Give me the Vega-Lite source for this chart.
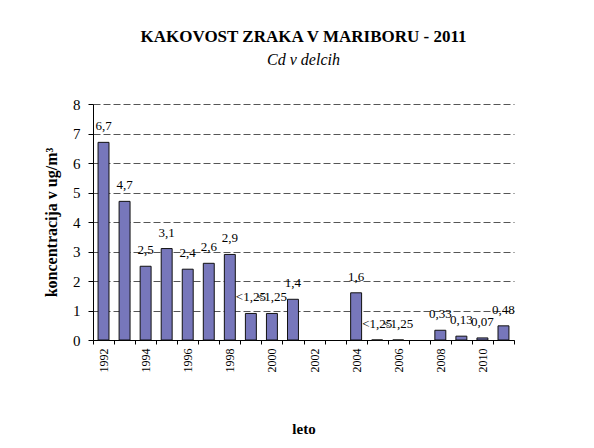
{
  "$schema": "https://vega.github.io/schema/vega-lite/v6.json",
  "width": 421,
  "height": 236,
  "autosize": "none",
  "padding": {"left": 93, "top": 104, "right": 80, "bottom": 108},
  "background": "white",
  "config": {
    "font": "Liberation Serif",
    "view": {"stroke": null},
    "axis": {"labelFont": "Liberation Serif", "titleFont": "Liberation Serif", "labelColor": "black", "titleColor": "black", "domainColor": "black", "tickColor": "black"}
  },
  "title": {
    "text": "KAKOVOST ZRAKA V MARIBORU - 2011",
    "subtitle": "Cd v delcih",
    "font": "Liberation Serif",
    "fontSize": 17,
    "fontWeight": "bold",
    "color": "black",
    "subtitleFont": "Liberation Serif",
    "subtitleFontSize": 16,
    "subtitleFontStyle": "italic",
    "subtitleColor": "black",
    "subtitlePadding": 6,
    "anchor": "middle",
    "offset": 28
  },
  "data": {
    "values": [
      {"year": 1992, "value": 6.7, "label": "6,7"},
      {"year": 1993, "value": 4.7, "label": "4,7"},
      {"year": 1994, "value": 2.5, "label": "2,5"},
      {"year": 1995, "value": 3.1, "label": "3,1"},
      {"year": 1996, "value": 2.4, "label": "2,4"},
      {"year": 1997, "value": 2.6, "label": "2,6"},
      {"year": 1998, "value": 2.9, "label": "2,9"},
      {"year": 1999, "value": 0.9, "label": "<1,25"},
      {"year": 2000, "value": 0.9, "label": "<1,25"},
      {"year": 2001, "value": 1.38, "label": "1,4"},
      {"year": 2002, "value": null, "label": null},
      {"year": 2003, "value": null, "label": null},
      {"year": 2004, "value": 1.6, "label": "1,6"},
      {"year": 2005, "value": 0, "label": "<1,25"},
      {"year": 2006, "value": 0, "label": "<1,25"},
      {"year": 2007, "value": null, "label": null},
      {"year": 2008, "value": 0.33, "label": "0,33"},
      {"year": 2009, "value": 0.13, "label": "0,13"},
      {"year": 2010, "value": 0.07, "label": "0,07"},
      {"year": 2011, "value": 0.48, "label": "0,48"}
    ]
  },
  "encoding": {
    "x": {
      "field": "year",
      "type": "ordinal",
      "scale": {
        "domain": [1992,1993,1994,1995,1996,1997,1998,1999,2000,2001,2002,2003,2004,2005,2006,2007,2008,2009,2010,2011],
        "paddingInner": 0,
        "paddingOuter": 0
      },
      "axis": {
        "title": "leto",
        "titleFont": "Liberation Serif",
        "titleFontSize": 15,
        "titleFontWeight": "bold",
        "titleY": 93,
        "titleBaseline": "alphabetic",
        "labelFont": "Liberation Serif",
        "labelAngle": -90,
        "labelFontSize": 12,
        "labelPadding": 4,
        "labelExpr": "datum.value % 2 == 0 ? datum.value : ''",
        "tickBand": "extent",
        "tickSize": 4,
        "domainWidth": 1
      }
    },
    "y": {
      "field": "value",
      "type": "quantitative",
      "scale": {"domain": [0, 8], "nice": false},
      "axis": {
        "title": "koncentracija v ug/m³",
        "titleFont": "Liberation Serif",
        "titleFontSize": 16,
        "titleFontWeight": "bold",
        "titlePadding": 13,
        "labelFont": "Liberation Serif",
        "values": [0,1,2,3,4,5,6,7,8],
        "labelFontSize": 15,
        "labelPadding": 8,
        "tickSize": 5,
        "grid": true,
        "gridColor": "#555555",
        "gridDash": [7, 3],
        "gridWidth": 1
      }
    }
  },
  "layer": [
    {
      "mark": {"type": "bar", "width": {"band": 0.52}, "fill": "#7777BB", "stroke": "#111111", "strokeWidth": 1}
    },
    {
      "transform": [{"filter": "datum.label != null"}],
      "mark": {"type": "text", "font": "Liberation Serif", "fontSize": 13, "color": "black", "baseline": "middle", "dy": -16},
      "encoding": {"text": {"field": "label"}}
    }
  ]
}
